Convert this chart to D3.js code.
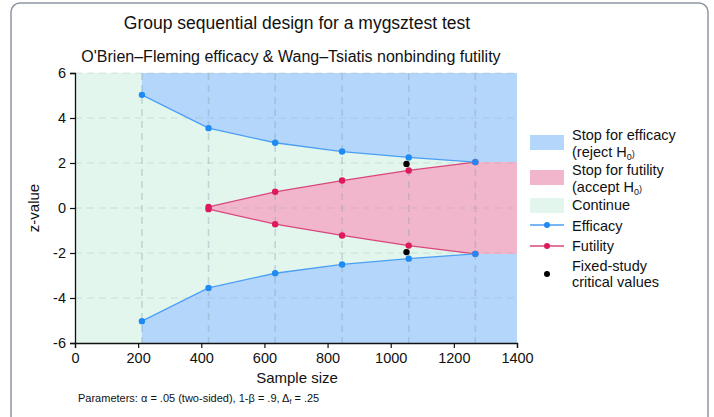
<!DOCTYPE html>
<html>
<head>
<meta charset="utf-8">
<script src="https://cdn.jsdelivr.net/npm/d3@7"></script>
<style>
  body { margin: 0; background: #fff; }
  text { font-family: "Liberation Sans", Arial, sans-serif; fill: #111; }
</style>
</head>
<body>
<svg id="chart" width="714" height="417"></svg>
<script>
// looks (sample size at each analysis)
const looks = [212, 423, 634, 846, 1057, 1268];
const effUpper = [5.03, 3.55, 2.90, 2.51, 2.25, 2.04];
const effLower = [-5.03, -3.55, -2.90, -2.51, -2.25, -2.04];
// futility starts at the second look
const futLooks = [423, 634, 846, 1057, 1268];
const futUpper = [0.05, 0.72, 1.22, 1.67, 2.04];
const futLower = [-0.05, -0.72, -1.22, -1.67, -2.04];
const fixedN = [1050, 1050];
const fixedZ = [1.96, -1.96];
const xTicks = [0, 200, 400, 600, 800, 1000, 1200, 1400];
const yTicks = [-6, -4, -2, 0, 2, 4, 6];

const svg = d3.select('#chart');
const padL = 75, padR = 517, padT = 73, padB = 343;

const x = d3.scaleLinear().domain([0, 1400]).range([padL, padR]);
const y = d3.scaleLinear().domain([-6, 6]).range([padB, padT]);

// outer frame
svg.append('rect')
   .attr('x', 11).attr('y', 3).attr('width', 697).attr('height', 430)
   .attr('rx', 9).attr('fill', 'none').attr('stroke', '#8d96a2').attr('stroke-width', 1.5);

const blue = '#b5d6fb', pink = '#f2b6cc', green = '#e2f6ee';
const effCol = '#1f8bf2', futCol = '#dc1a5c';

// continue region (whole plot)
svg.append('rect').attr('x', x(0)).attr('y', y(6))
   .attr('width', x(1400) - x(0)).attr('height', y(-6) - y(6)).attr('fill', green);

const area = d3.line().x(d => x(d[0])).y(d => y(d[1]));

// efficacy regions
let up = [[looks[0], 6]].concat(looks.map((n, i) => [n, effUpper[i]]), [[1400, effUpper[5]], [1400, 6]]);
let lo = [[looks[0], -6]].concat(looks.map((n, i) => [n, effLower[i]]), [[1400, effLower[5]], [1400, -6]]);
svg.append('path').attr('d', area(up) + 'Z').attr('fill', blue);
svg.append('path').attr('d', area(lo) + 'Z').attr('fill', blue);

// futility region
let fut = futLooks.map((n, i) => [n, futUpper[i]]).concat([[1400, futUpper[4]], [1400, futLower[4]]],
          futLooks.map((n, i) => [n, futLower[i]]).reverse());
svg.append('path').attr('d', area(fut) + 'Z').attr('fill', pink);

// grid lines
svg.selectAll('.hgrid').data(yTicks.filter(d => d > -6)).enter().append('line')
   .attr('x1', x(0)).attr('x2', x(1400)).attr('y1', d => y(d)).attr('y2', d => y(d))
   .attr('stroke', '#8a9a9a').attr('stroke-opacity', 0.18).attr('stroke-width', 1.5)
   .attr('stroke-dasharray', '7,5');
svg.selectAll('.vgrid').data(looks).enter().append('line')
   .attr('x1', d => x(d)).attr('x2', d => x(d)).attr('y1', y(6)).attr('y2', y(-6))
   .attr('stroke', '#7f9aa6').attr('stroke-opacity', 0.35).attr('stroke-width', 1.6)
   .attr('stroke-dasharray', '7,5');

// boundary lines + points
function series(xs, ys, col, lineCol) {
  const pts = xs.map((n, i) => [n, ys[i]]);
  svg.append('path').attr('d', area(pts)).attr('fill', 'none')
     .attr('stroke', lineCol).attr('stroke-width', 1.3);
  svg.selectAll(null).data(pts).enter().append('circle')
     .attr('cx', d => x(d[0])).attr('cy', d => y(d[1])).attr('r', 3.2).attr('fill', col);
}
series(futLooks, futUpper, futCol, '#d9477a');
series(futLooks, futLower, futCol, '#d9477a');
series(looks, effUpper, effCol, '#4a9ff5');
series(looks, effLower, effCol, '#4a9ff5');

svg.selectAll('.fixed').data(fixedN).enter().append('circle')
   .attr('cx', d => x(d)).attr('cy', (d, i) => y(fixedZ[i])).attr('r', 3.2).attr('fill', '#000');

// axes
const xAxis = d3.axisBottom(x).tickValues(xTicks).tickSize(5).tickFormat(d3.format('d'));
const yAxis = d3.axisLeft(y).tickValues(yTicks).tickSize(5).tickFormat(d => String(d));
const gx = svg.append('g').attr('transform', 'translate(0,' + padB + ')').call(xAxis);
const gy = svg.append('g').attr('transform', 'translate(' + padL + ',0)').call(yAxis);
[gx, gy].forEach(g => {
  g.select('.domain').attr('stroke', '#111').attr('stroke-width', 1.3);
  g.selectAll('line').attr('stroke', '#111').attr('stroke-width', 1.2);
  g.selectAll('text').attr('font-size', 14.5).attr('font-family', '"Liberation Sans", Arial, sans-serif').attr('fill', '#111');
});
gx.selectAll('text').attr('dy', '0.85em');
gy.selectAll('text').attr('dx', '-1px');

// titles
svg.append('text').attr('x', 297).attr('y', 29).attr('text-anchor', 'middle').attr('font-size', 17.5)
   .text('Group sequential design for a mygsztest test');
svg.append('text').attr('x', 291).attr('y', 62).attr('text-anchor', 'middle').attr('font-size', 16)
   .text('O\'Brien\u2013Fleming efficacy & Wang\u2013Tsiatis nonbinding futility');
svg.append('text').attr('x', 297).attr('y', 383).attr('text-anchor', 'middle').attr('font-size', 15)
   .text('Sample size');
svg.append('text').attr('transform', 'translate(39,' + y(0) + ') rotate(-90)').attr('text-anchor', 'middle')
   .attr('font-size', 15).text('z-value');
const par = svg.append('text').attr('x', 78).attr('y', 402).attr('font-size', 11);
par.append('tspan').text('Parameters: \u03b1 = .05 (two-sided), 1-\u03b2 = .9, \u0394');
par.append('tspan').attr('font-size', 7).attr('dy', 2).text('f');
par.append('tspan').attr('dy', -2).text(' = .25');

// legend
const lg = svg.append('g');
const sw = 530, tx = 572;
function swatch(cy, col) {
  lg.append('rect').attr('x', sw).attr('y', cy - 7).attr('width', 34).attr('height', 15).attr('fill', col);
}
function label(ty, parts) {
  const t = lg.append('text').attr('x', tx).attr('y', ty).attr('font-size', 14.5);
  parts.forEach(p => {
    const s = t.append('tspan').text(p[0]);
    if (p[1]) s.attr('font-size', 9).attr('dy', p[1]);
  });
}
swatch(142, blue);
label(140, [['Stop for efficacy']]);
label(157, [['(reject H'], ['0', 3], [')', -3]]);
swatch(177, pink);
label(175, [['Stop for futility']]);
label(192, [['(accept H'], ['0', 3], [')', -3]]);
swatch(205, green);
label(210, [['Continue']]);
function lineKey(cy, col, lc) {
  lg.append('line').attr('x1', sw).attr('x2', sw + 34).attr('y1', cy).attr('y2', cy)
    .attr('stroke', lc).attr('stroke-width', 1.6);
  lg.append('circle').attr('cx', sw + 17).attr('cy', cy).attr('r', 3).attr('fill', col);
}
lineKey(225, effCol, '#4a9ff5');
label(231, [['Efficacy']]);
lineKey(246, futCol, '#d9477a');
label(251, [['Futility']]);
lg.append('circle').attr('cx', sw + 17).attr('cy', 274).attr('r', 3).attr('fill', '#000');
label(271, [['Fixed-study']]);
label(287, [['critical values']]);
</script>
</body>
</html>
